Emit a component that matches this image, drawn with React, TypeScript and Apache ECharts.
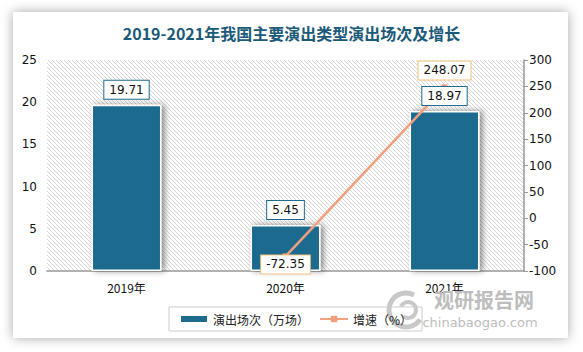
import React, { useEffect, useRef } from "react";
import * as echarts from "echarts";

const categories = ["2019年", "2020年", "2021年"];
const showCounts = [19.71, 5.45, 18.97];
const growth: (number | string)[] = ["-", -72.35, 248.07];
const title = "2019-2021年我国主要演出类型演出场次及增长";
const barName = "演出场次（万场）";
const lineName = "增速（%）";

function makeHatch() {
  const c = document.createElement("canvas");
  c.width = 4;
  c.height = 4;
  const ctx = c.getContext("2d")!;
  ctx.fillStyle = "#ffffff";
  ctx.fillRect(0, 0, 4, 4);
  ctx.fillStyle = "#d6d6d6";
  for (let i = 0; i < 4; i++) {
    ctx.fillRect(i, i, 1, 1);
  }
  return c;
}

export default function App() {
  const ref = useRef<HTMLDivElement>(null);
  useEffect(() => {
    if (!ref.current) return;
    const chart = echarts.init(ref.current, null, { renderer: "svg" });
    const hatch = makeHatch();
    const barColor = "#1d6b8e";
    const lineColor = "#f0a07f";
    const boxLabel = {
      show: true,
      position: "top",
      distance: 6,
      color: "#111",
      fontSize: 12,
      fontFamily: "'DejaVu Sans'",
      backgroundColor: "#fff",
      borderWidth: 1,
      padding: [3, 5, 3, 5],
    };
    chart.setOption({
      animation: false,
      backgroundColor: "#ffffff",
      graphic: [
        {
          type: "rect",
          z: -10,
          shape: { x: 13, y: 12, width: 555, height: 326 },
          style: { fill: "#ffffff", shadowBlur: 12, shadowColor: "rgba(0,0,0,0.35)" },
        },
        {
          type: "arc",
          z: 1,
          shape: { cx: 406, cy: 310, r: 17, startAngle: 0.6, endAngle: 5.2 },
          style: { stroke: "#c8c8c8", lineWidth: 5, fill: "none" },
        },
        {
          type: "arc",
          z: 1,
          shape: { cx: 408, cy: 310, r: 8, startAngle: 3.6, endAngle: 8.5 },
          style: { stroke: "#c8c8c8", lineWidth: 4, fill: "none" },
        },
        {
          type: "text",
          z: 1,
          x: 484,
          y: 299,
          style: {
            text: "观研报告网",
            font: "bold 20px 'Noto Sans CJK SC'",
            fill: "#bdbdbd",
            align: "center",
            verticalAlign: "middle",
          },
        },
        {
          type: "text",
          z: 1,
          x: 480,
          y: 322,
          style: {
            text: "chinabaogao.com",
            font: "13px 'DejaVu Sans'",
            fill: "#bdbdbd",
            align: "center",
            verticalAlign: "middle",
          },
        },
      ],
      title: {
        text: title,
        left: "center",
        top: 20,
        textStyle: {
          fontFamily: "'Noto Sans CJK SC'",
          fontSize: 16,
          fontWeight: "bold",
          color: "#1b5a78",
        },
      },
      grid: {
        left: 47,
        right: 59,
        top: 60,
        bottom: 81,
        show: true,
        borderWidth: 0,
        backgroundColor: {
          image: hatch,
          repeat: "repeat",
          imageWidth: 4,
          imageHeight: 4,
        } as any,
      },
      legend: {
        bottom: 21,
        left: 169,
        itemGap: 10,
        padding: [6, 10, 6, 10],
        borderColor: "#cccccc",
        borderWidth: 1,
        textStyle: { fontFamily: "'Noto Sans CJK SC'", fontSize: 12, color: "#222" },
        data: [
          { name: barName, icon: "rect", itemStyle: { color: barColor } },
          { name: lineName },
        ],
        itemWidth: 28,
        itemHeight: 8,
      },
      xAxis: {
        type: "category",
        data: categories,
        axisTick: { show: false },
        axisLine: { lineStyle: { color: "#999", width: 1.5 } },
        axisLabel: { color: "#111", fontSize: 12, fontFamily: "'Noto Sans CJK SC'", margin: 10 },
      },
      yAxis: [
        {
          type: "value",
          min: 0,
          max: 25,
          interval: 5,
          splitLine: { show: false },
          axisLine: { show: false },
          axisTick: { show: false },
          axisLabel: { color: "#111", fontSize: 12, fontFamily: "'DejaVu Sans'", margin: 10 },
        },
        {
          type: "value",
          min: -100,
          max: 300,
          interval: 50,
          position: "right",
          splitLine: { show: false },
          axisLine: { show: true, lineStyle: { color: "#999", width: 1.5 } },
          axisTick: { show: true, length: 4, lineStyle: { color: "#999" } },
          axisLabel: { color: "#111", fontSize: 12, fontFamily: "'DejaVu Sans'", margin: 5 },
        },
      ],
      series: [
        {
          name: barName,
          type: "bar",
          data: showCounts,
          barWidth: "44%",
          z: 2,
          itemStyle: {
            color: barColor,
            borderColor: "#ffffff",
            borderWidth: 1.5,
            shadowBlur: 6,
            shadowOffsetX: 3,
            shadowOffsetY: 0,
            shadowColor: "rgba(0,0,0,0.45)",
          },
          label: { show: false },
        },
        {
          name: lineName,
          type: "line",
          yAxisIndex: 1,
          data: growth.map((v, i) =>
            i === 1
              ? { value: v, label: { position: "bottom", distance: -4 } }
              : v
          ),
          symbol: "rect",
          symbolSize: 6,
          lineStyle: { color: lineColor, width: 2.5 },
          itemStyle: { color: lineColor },
          label: {
            ...boxLabel,
            distance: 5,
            borderColor: "#f2c27a",
            formatter: (p: any) => Number(p.value).toFixed(2),
          },
          z: 5,
        },
        {
          name: "labels",
          type: "bar",
          data: showCounts,
          barWidth: "44%",
          barGap: "-100%",
          z: 8,
          silent: true,
          itemStyle: { color: "rgba(0,0,0,0)" },
          label: { ...boxLabel, borderColor: barColor },
        },
      ],
    });
    return () => chart.dispose();
  }, []);
  return (
    <div
      ref={ref}
      style={{ position: "absolute", left: 0, top: 0, width: 583, height: 352 }}
    />
  );
}
